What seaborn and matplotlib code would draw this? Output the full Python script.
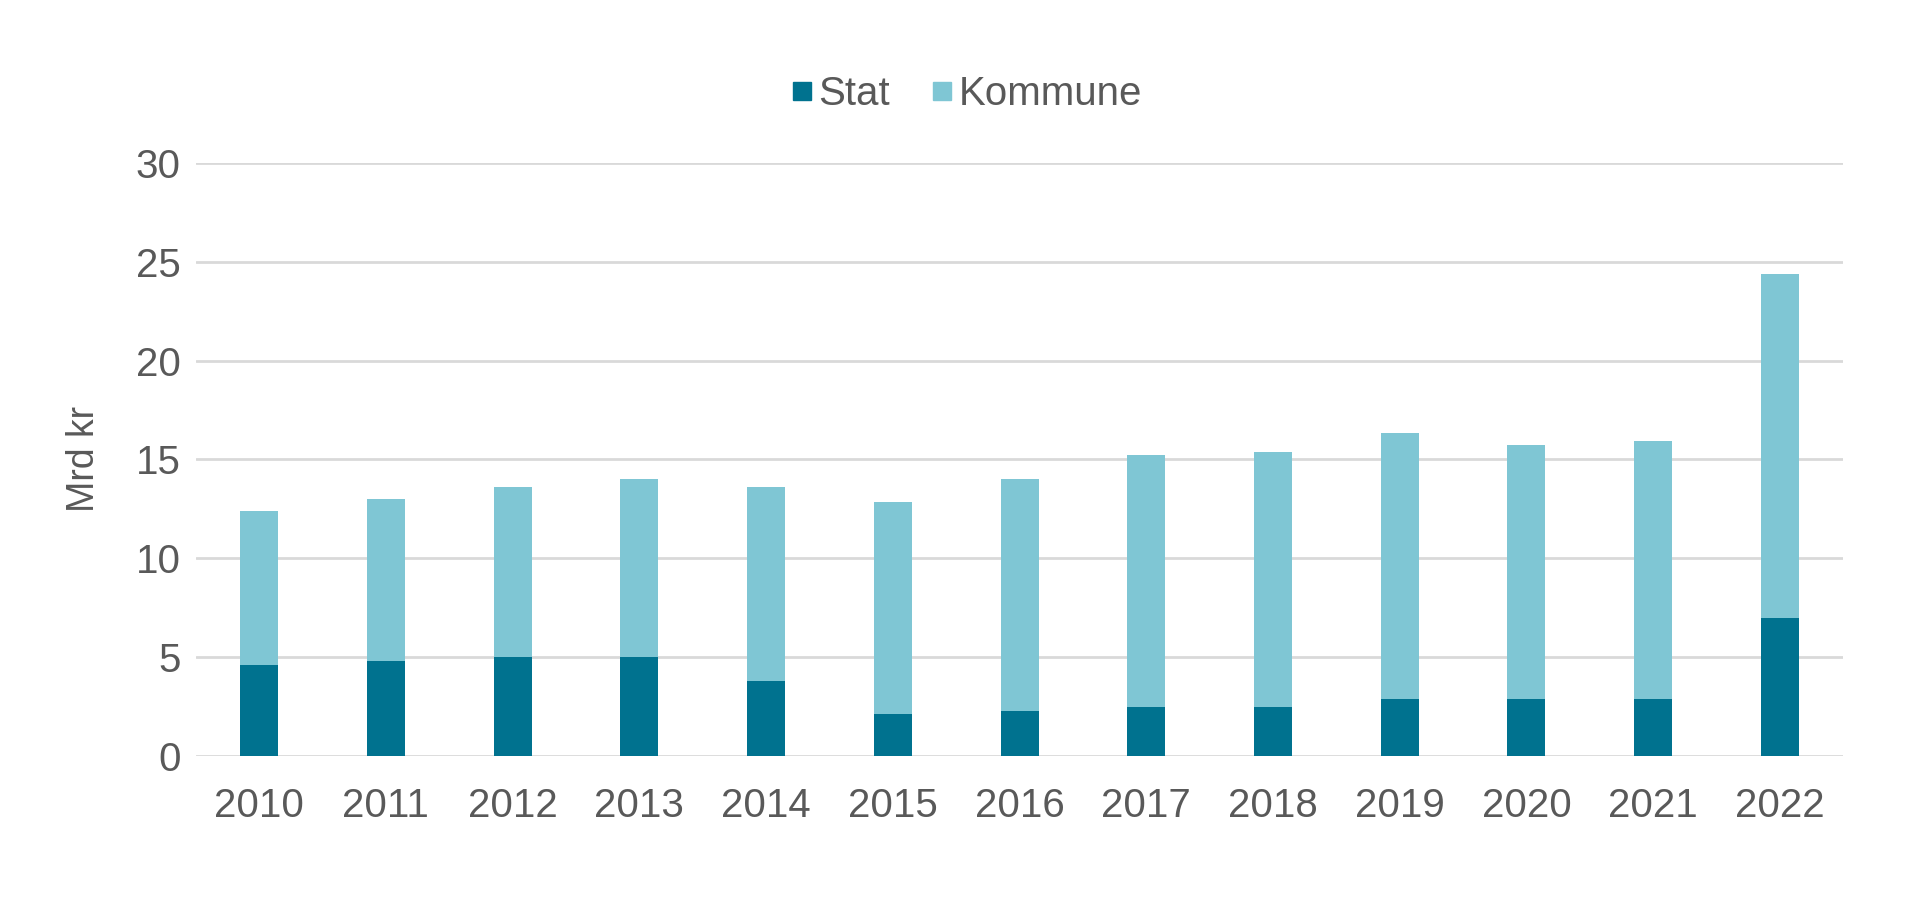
import matplotlib
matplotlib.use("Agg")
import matplotlib.pyplot as plt
from matplotlib.lines import Line2D
import seaborn as sns
import pandas as pd

years = ["2010", "2011", "2012", "2013", "2014", "2015", "2016",
         "2017", "2018", "2019", "2020", "2021", "2022"]
stat = [4.6, 4.8, 5.0, 5.0, 3.8, 2.1, 2.3, 2.5, 2.5, 2.9, 2.9, 2.9, 7.0]
kommune = [7.8, 8.2, 8.6, 9.0, 9.8, 10.75, 11.7, 12.7, 12.9, 13.45, 12.85, 13.05, 17.4]

total = [s + k for s, k in zip(stat, kommune)]
df = pd.DataFrame({"year": years, "stat": stat, "kommune": kommune, "total": total})

sns.set_theme(style="white")
plt.rcParams["font.family"] = ["Liberation Sans", "DejaVu Sans"]

c_stat = "#00728F"
c_kom = "#7FC6D4"
txt = "#595959"

fig = plt.figure(figsize=(19.2, 9), dpi=100)
ax = fig.add_axes([0.102, 0.16, 0.858, 0.659])

sns.barplot(data=df, x="year", y="total", order=years, color=c_kom,
            width=0.3, saturation=1, linewidth=0, ax=ax, zorder=3)
sns.barplot(data=df, x="year", y="stat", order=years, color=c_stat,
            width=0.3, saturation=1, linewidth=0, ax=ax, zorder=4)

ax.set_ylim(0, 30)
ax.set_xlim(-0.5, len(years) - 0.5)
ax.set_yticks([0, 5, 10, 15, 20, 25, 30])
ax.yaxis.grid(True, color="#D9D9D9", linewidth=2)
ax.set_axisbelow(True)
for s in ax.spines.values():
    s.set_visible(False)
ax.tick_params(axis="both", length=0, labelsize=29, labelcolor=txt)
ax.tick_params(axis="x", pad=22)
ax.tick_params(axis="y", pad=11)
ax.set_xlabel("")
ax.set_ylabel("Mrd kr", fontsize=27, color=txt)
ax.yaxis.set_label_coords(-0.057, 0.5)

handles = [Line2D([], [], marker="s", linestyle="none", markersize=13,
                  markerfacecolor=c_stat, markeredgecolor=c_stat),
           Line2D([], [], marker="s", linestyle="none", markersize=13,
                  markerfacecolor=c_kom, markeredgecolor=c_kom)]
fig.legend(handles, ["Stat", "Kommune"], loc="center", bbox_to_anchor=(0.502, 0.896),
           ncol=2, frameon=False, fontsize=29, labelcolor=txt,
           handletextpad=0.0, columnspacing=0.9, handlelength=0.8)

fig.savefig("out.png", dpi=100, facecolor="white")
